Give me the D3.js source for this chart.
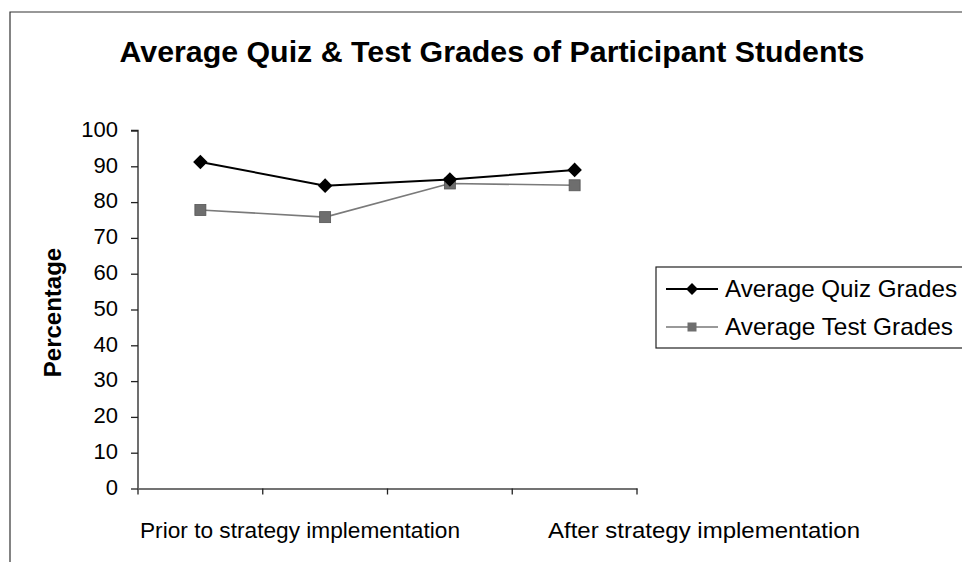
<!DOCTYPE html>
<html><head><meta charset="utf-8">
<script src="https://cdn.jsdelivr.net/npm/d3@7"></script>
<style>body{margin:0;background:#fff}svg{display:block;font-family:"Liberation Sans",Arial,sans-serif}</style>
</head><body><svg id="c" width="962" height="562"></svg>
<script>
const categories = ["P1", "P2", "A1", "A2"];
const quizGrades = [91.2, 84.6, 86.3, 89.0];
const testGrades = [77.8, 75.8, 85.2, 84.7];
const yTicks = [0, 10, 20, 30, 40, 50, 60, 70, 80, 90, 100];
const groupLabels = ["Prior to strategy implementation", "After strategy implementation"];
const seriesNames = ["Average Quiz Grades", "Average Test Grades"];
const title = "Average Quiz & Test Grades of Participant Students";
const yTitle = "Percentage";

const svg = d3.select("#c");
// frame
svg.append("path").attr("d","M10,562V12H962").attr("fill","none").attr("stroke","#333").attr("stroke-width",1.2);

svg.append("text").attr("x",492).attr("y",62).attr("text-anchor","middle")
  .attr("font-size",29).attr("font-weight","bold")
  .attr("textLength",745).attr("lengthAdjust","spacingAndGlyphs").text(title);

const x = d3.scaleBand().domain(categories).range([138,637]);
const y = d3.scaleLinear().domain([0,100]).range([488.5,130.5]);

// y axis
const ya = svg.append("g").attr("transform","translate(138,0)")
  .call(d3.axisLeft(y).tickValues(yTicks).tickSize(7).tickPadding(13));
ya.select(".domain").attr("stroke","#222").attr("stroke-width",1.3).attr("d","M-7,130.5H0V488.5");
ya.selectAll(".tick line").attr("stroke","#222").attr("stroke-width",1.3);
ya.selectAll(".tick text").attr("font-size",22).attr("dy","0.26em").attr("fill","#000").attr("font-family","Liberation Sans, Arial, sans-serif");

// x axis
const xa = svg.append("g").attr("transform","translate(0,488.5)")
  .call(d3.axisBottom(x).tickValues([]).tickSizeOuter(0));
xa.select(".domain").attr("stroke","#444").attr("stroke-width",1.5);
const bounds = categories.map(c=>x(c)).concat([x.range()[1]]);
xa.selectAll("line.t").data(bounds).enter().append("line").attr("class","t")
  .attr("x1",d=>d).attr("x2",d=>d).attr("y1",0).attr("y2",6).attr("stroke","#222").attr("stroke-width",1.3);

const labelX = [140, 548];
const labelW = [320, 312];
svg.selectAll("text.glab").data(groupLabels).enter().append("text").attr("class","glab")
  .attr("x",(d,i)=>labelX[i]).attr("y",538).attr("font-size",22.8)
  .attr("textLength",(d,i)=>labelW[i]).attr("lengthAdjust","spacingAndGlyphs").text(d=>d);

svg.append("text").attr("transform","translate(61,312.5) rotate(-90)").attr("text-anchor","middle")
  .attr("font-size",24).attr("font-weight","bold").text(yTitle);

const cx = c => x(c) + x.bandwidth()/2;
const line = d3.line().x((d,i)=>cx(categories[i])).y(d=>y(d));

// test series
svg.append("path").datum(testGrades).attr("d",line).attr("fill","none").attr("stroke","#7a7a7a").attr("stroke-width",1.6);
svg.selectAll("rect.tm").data(testGrades).enter().append("rect").attr("class","tm")
  .attr("x",(d,i)=>cx(categories[i])-5.5).attr("y",d=>y(d)-5.5).attr("width",11).attr("height",11)
  .attr("fill","#6e6e6e").attr("stroke","#555").attr("stroke-width",0.8);

// quiz series
svg.append("path").datum(quizGrades).attr("d",line).attr("fill","none").attr("stroke","#000").attr("stroke-width",2);
const diamond = d3.symbol().type(d3.symbolDiamond2).size(135);
svg.selectAll("path.qm").data(quizGrades).enter().append("path").attr("class","qm")
  .attr("transform",(d,i)=>`translate(${cx(categories[i])},${y(d)})`).attr("d",diamond).attr("fill","#000");

// legend
const lg = svg.append("g");
lg.append("rect").attr("x",656).attr("y",267).attr("width",320).attr("height",81).attr("fill","#fff").attr("stroke","#222").attr("stroke-width",1.2);
const ly = [289, 327];
const legendW = [232, 228];
seriesNames.forEach((n,i)=>{
  lg.append("line").attr("x1",666).attr("x2",718).attr("y1",ly[i]).attr("y2",ly[i])
    .attr("stroke",i===0?"#000":"#777").attr("stroke-width",i===0?2:1.6);
  if(i===0) lg.append("path").attr("transform",`translate(692,${ly[i]})`).attr("d",d3.symbol().type(d3.symbolDiamond2).size(90)).attr("fill","#000");
  else lg.append("rect").attr("x",687.5).attr("y",ly[i]-4.5).attr("width",9).attr("height",9).attr("fill","#6e6e6e");
  lg.append("text").attr("x",725).attr("y",ly[i]+8).attr("font-size",24)
    .attr("textLength",legendW[i]).attr("lengthAdjust","spacingAndGlyphs").text(n);
});
</script></body></html>
